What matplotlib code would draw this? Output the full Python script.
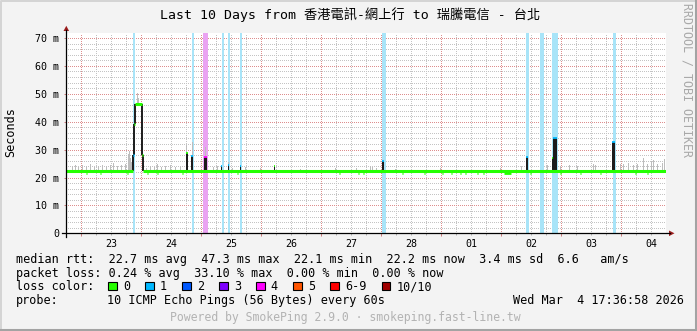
import numpy as np
import matplotlib
matplotlib.use('Agg')
import matplotlib.pyplot as plt
from matplotlib.transforms import Affine2D, blended_transform_factory
from matplotlib.patches import Rectangle, Polygon
from matplotlib.lines import Line2D

W, H = 697, 331
MONO = ['DejaVu Sans Mono', 'Noto Sans CJK TC']

# time axis is hours since Sun Feb 22 17:36:58 2026 (10 day window)
first_midnight = 6.384
day_labels = ['23', '24', '25', '26', '27', '28', '01', '02', '03', '04']

loss_labels = ['0', '1', '2', '3', '4', '5', '6-9', '10/10']
loss_colors = ['#26ff00', '#00b8ff', '#0059ff', '#7e00ff', '#ff00ff', '#ff5500', '#ff0000', '#a00000']
band_colors = {1: '#a8e4f8', 4: '#eaa3f2'}

# median rtt (ms), step line; loss count per segment
med_h = [0, 26.8, 27.2, 27.6, 30.5, 31.0, 240]
med_v = [22.3, 28.0, 39.0, 46.4, 28.0, 22.3, 22.3]
med_loss = [0, 1, 0, 0, 0, 0]

# short spikes of the median (dark bars)
spk_start = [48.0, 50.0, 55.2, 62.2, 64.8, 69.6, 83.2, 126.4, 184.1, 194.4, 194.9, 218.7]
spk_end = [48.8, 50.8, 56.4, 62.6, 65.2, 70.0, 83.6, 127.2, 184.8, 194.9, 196.6, 219.6]
spk_top = [28.8, 27.8, 27.2, 24.2, 24.5, 24.2, 24.0, 25.9, 27.5, 27.0, 34.3, 32.8]
spk_loss = [0, 1, 4, 1, 1, 1, 0, 1, 1, 0, 1, 1]

# small dips of the median line
dip_h = [8.4, 14.0, 24.8, 32.8, 36.8, 46.8, 68.8, 109.6, 117.2, 119.2, 134.8, 143.6, 150.8,
         154.4, 158.0, 160.0, 164.8, 167.2, 176.6, 186.0, 198.0, 206.0, 214.0, 228.0, 232.8]
dip_w = [0.6, 0.6, 0.6, 0.6, 0.6, 0.6, 0.6, 0.6, 0.6, 0.6, 0.6, 0.6, 0.6,
         0.6, 0.6, 0.6, 0.6, 0.6, 2.8, 0.6, 0.6, 0.6, 0.6, 0.6, 0.6]
dip_v = [21.7] * len(dip_h)

# packet loss background bands
band_start = [27.1, 50.5, 54.9, 62.6, 65.0, 69.8, 126.6, 184.2, 189.9, 190.7, 194.6, 196.2, 218.9]
band_end = [27.9, 51.5, 56.9, 63.4, 65.8, 70.6, 128.1, 185.3, 190.6, 191.4, 196.1, 197.0, 220.1]
band_loss = [1, 1, 4, 1, 1, 1, 1, 1, 1, 1, 1, 1, 1]

# smoke (ping spread), ms
smoke_h = [2.8, 4.0, 5.2, 6.8, 8.4, 10.0, 11.6, 13.2, 14.8, 16.4, 18.0, 19.2, 20.8, 22.4, 24.0,
           25.2, 25.6, 26.0, 26.4, 28.8, 29.2, 32.4, 34.0, 35.6, 36.8, 38.4, 40.0, 42.0, 44.0,
           46.0, 48.4, 50.8, 56.0, 59.2, 60.8, 65.2, 66.8, 72.0, 78.0, 94.0, 108.0, 116.4,
           122.0, 122.8, 124.4, 132.0, 150.0, 174.0, 182.4, 192.7, 198.0, 201.6, 204.7, 211.1,
           212.0, 222.0, 223.2, 225.2, 227.1, 228.7, 231.1, 232.7, 234.3, 235.3, 236.9, 238.7, 239.7]
smoke_lo = [22.3] * 19 + [46.6, 46.6] + [22.3] * 9 + [29.0, 27.8, 27.2] + [22.3] * 34
smoke_hi = [24.2, 24.5, 23.8, 24.6, 24.0, 24.8, 23.9, 24.3, 24.6, 24.0, 24.4, 25.3, 24.1, 24.5, 25.0,
            28.5, 29.5, 27.0, 25.5, 50.3, 48.5, 23.5, 24.0, 23.7, 25.0, 23.8, 24.2, 24.4, 23.6,
            24.0, 31.5, 32.8, 31.0, 23.8, 24.1, 25.6, 23.5, 23.6, 23.4, 23.2, 23.4, 23.3,
            24.1, 23.6, 23.4, 23.2, 23.3, 23.3, 24.0, 24.4, 24.2, 24.6, 24.0, 24.9,
            24.5, 25.0, 24.7, 25.1, 24.6, 24.9, 27.1, 25.0, 25.8, 26.1, 24.9, 25.1, 26.6]

legend_rows = [
    'median rtt:  22.7 ms avg  47.3 ms max  22.1 ms min  22.2 ms now  3.4 ms sd  6.6   am/s',
    'packet loss: 0.24 % avg  33.10 % max  0.00 % min  0.00 % now',
]
title = 'Last 10 Days from 香港電訊-網上行 to 瑞騰電信 - 台北'
probe = '10 ICMP Echo Pings (56 Bytes) every 60s'
stamp = 'Wed Mar  4 17:36:58 2026'
footer = 'Powered by SmokePing 2.9.0 · smokeping.fast-line.tw'

fig = plt.figure(figsize=(W / 100, H / 100), dpi=100, facecolor='#f3f3f3')
px = Affine2D().scale(1, -1).translate(0, H)  # image pixels, y down

x0, x1 = 65.5, 665.5
y0, y1 = 33.0, 233.3
ax = fig.add_axes([x0 / W, (H - y1) / H, (x1 - x0) / W, (y1 - y0) / H])
ax.set_facecolor('white')
ax.set_xlim(0, 240)
ax.set_ylim(0, (y1 - y0) / 2.79)
for s in ax.spines.values():
    s.set_visible(False)

# grid (1px dotted like rrdtool)
ax.set_xticks([first_midnight + 24 * i for i in range(10)])
ax.set_xticks(np.arange(first_midnight % 6, 240, 6), minor=True)
ax.set_yticks(range(0, 71, 10))
ax.set_yticks(range(0, 72, 2), minor=True)
ax.set_axisbelow(True)
ax.grid(which='minor', color='#c4c4c4', lw=0.72, ls=(0, (1, 2)), antialiased=False)
ax.grid(which='major', color='#de8e8e', lw=0.72, ls=(0, (1, 2)), antialiased=False)
ax.set_xticklabels([])
ax.set_yticklabels(['0'] + ['%d m' % v for v in range(10, 71, 10)], family=MONO, fontsize=7.2)
ax.tick_params(axis='x', which='major', length=2.2, width=0.72, color='#d08080', direction='out')
ax.tick_params(axis='x', which='minor', length=1.5, width=0.72, color='#b0b0b0', direction='out')
ax.tick_params(axis='y', which='major', length=1.5, width=0.72, color='#d08080', pad=3)
ax.tick_params(axis='y', which='minor', length=0)

# loss bands
for a, b, l in zip(band_start, band_end, band_loss):
    ax.axvspan(a, b, color=band_colors[l], lw=0, zorder=1)

# smoke
lo = np.array(smoke_lo)
ax.bar(smoke_h, np.array(smoke_hi) - lo, bottom=lo, width=0.45, color='#bdbdbd', lw=0, zorder=2)

# spikes
s0 = np.array(spk_start)
ax.bar(s0, np.array(spk_top) - 22.3, bottom=22.3, width=np.array(spk_end) - s0, align='edge',
       color='#1c1c1c', lw=0, zorder=3)

# median line
for i in range(1, len(med_h) - 1):
    ax.vlines(med_h[i], min(med_v[i - 1], med_v[i]), max(med_v[i - 1], med_v[i]),
              color='#1c1c1c', lw=1.4, zorder=3.5)
dh = np.array(dip_h)
dw = np.array(dip_w)
ax.hlines(dip_v, dh - dw / 2, dh + dw / 2, color=loss_colors[0], lw=2.0, zorder=3.6)
ax.hlines(med_v[:-1], med_h[:-1], med_h[1:], colors=[loss_colors[l] for l in med_loss],
          lw=2.2, zorder=4)
ax.hlines(spk_top, spk_start, spk_end, colors=[loss_colors[l] for l in spk_loss], lw=1.3, zorder=4)

# day labels at noon
bt = blended_transform_factory(ax.transData, px)
for i, lab in enumerate(day_labels):
    ax.text(first_midnight + 12 + 24 * i, 247, lab, transform=bt, ha='center', va='baseline',
            family=MONO, fontsize=7.2, clip_on=False)

# axes with arrows
arrow_c = '#9b1c1c'
fig.add_artist(Line2D([62, 669.5], [233.3, 233.3], transform=px, color='black', lw=0.9))
fig.add_artist(Line2D([66.3, 66.3], [237, 30], transform=px, color='black', lw=0.9))
fig.add_artist(Polygon([(669, 230.5), (674.5, 233.3), (669, 236.1)], closed=True, transform=px,
                       color=arrow_c, lw=0))
fig.add_artist(Polygon([(63.5, 31), (66.3, 25.8), (69.1, 31)], closed=True, transform=px,
                       color=arrow_c, lw=0))

# texts
fig.text(160, 19.3, title, transform=px, family=MONO, fontsize=9.5, va='baseline')
fig.text(11, 132, 'Seconds', transform=px, family=MONO, fontsize=8.5, rotation=90,
         ha='center', va='center')
fig.text(686.5, 3, 'RRDTOOL / TOBI OETIKER', transform=px, family=MONO, fontsize=8.4,
         rotation=270, ha='center', va='top', color='#a9a9a9')
fig.text(16, 263, legend_rows[0], transform=px, family=MONO, fontsize=8.5, va='baseline')
fig.text(16, 277, legend_rows[1], transform=px, family=MONO, fontsize=8.5, va='baseline')
fig.text(16, 290.5, 'loss color:', transform=px, family=MONO, fontsize=8.5, va='baseline')
box_x = [108.3, 145.3, 182.3, 219.3, 256.3, 293.3, 330.3, 381.7]
for bx, lab, c in zip(box_x, loss_labels, loss_colors):
    fig.add_artist(Rectangle((bx, 281.7), 8.3, 8.3, transform=px, fc=c, ec='black', lw=0.8))
    fig.text(bx + 14.5, 290.5, lab, transform=px, family=MONO, fontsize=8.5, va='baseline')
fig.text(16, 304, 'probe:', transform=px, family=MONO, fontsize=8.5, va='baseline')
fig.text(107.3, 304, probe, transform=px, family=MONO, fontsize=8.5, va='baseline')
fig.text(513.3, 304, stamp, transform=px, family=MONO, fontsize=8.5, va='baseline')
fig.text(170, 321.5, footer, transform=px, family=MONO, fontsize=8.3, va='baseline', color='#b3b3b3')

# frame
fig.add_artist(Line2D([0.5, 0.5, W], [H, 0.5, 0.5], transform=px, color='#d4d4d4', lw=1.4))
fig.add_artist(Line2D([0, W - 1.5, W - 1.5], [H - 1.5, H - 1.5, 0], transform=px,
                      color='#a3a3a3', lw=2.2))

fig.savefig('out.png', dpi=100, facecolor=fig.get_facecolor())
